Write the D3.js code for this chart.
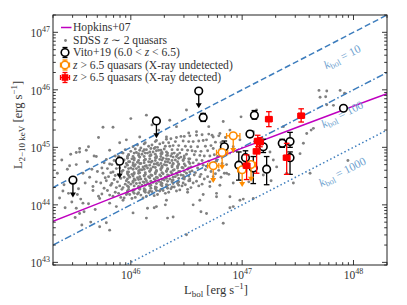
<!DOCTYPE html>
<html>
<head>
<meta charset="utf-8">
<script src="https://cdn.jsdelivr.net/npm/d3@7"></script>
<style>
  body { margin: 0; background: #fff; }
  svg { display: block; font-family: "Liberation Serif", "DejaVu Serif", serif; }
</style>
</head>
<body>
<div id="chart"></div>
<script>
// axis ranges (erg/s)
const xDomain = [2e45, 2e48];
const yDomain = [9e42, 2e47];

// bolometric corrections drawn as L_X = L_bol / k
const kbolValues = [10, 100, 1000];
const kbolLabels = ["10", "100", "1000"];

// Hopkins+07 curve
const hopkinsLbol = [2e45, 5e45, 1e46, 3e46, 1e47, 3e47, 1e48, 2e48];
const hopkinsLx = [5.2e43, 1.04e44, 1.76e44, 3.98e44, 9.7e44, 2.17e45, 5.2e45, 8.6e45];

// Vito+19 detections: [log Lbol, log LX, err down, err up]
const vitoDet = [
  [46.65, 45.52, 0.07, 0.07], [46.84, 45.01, 0.10, 0.10], [46.97, 44.69, 0.26, 0.23],
  [47.03, 44.82, 0.12, 0.12], [47.07, 45.23, 0.05, 0.05], [47.11, 45.56, 0.07, 0.08],
  [47.10, 44.64, 0.27, 0.20], [47.19, 45.01, 0.10, 0.13], [47.22, 44.62, 0.27, 0.22],
  [47.36, 45.07, 0.07, 0.07], [47.43, 45.10, 0.10, 0.16], [47.43, 44.82, 0.29, 0.10],
  [47.91, 45.68, 0.04, 0.04]
];
// Vito+19 upper limits: [log Lbol, log LX]
const vitoUL = [[45.48, 44.43], [45.90, 44.76], [46.23, 45.46], [46.61, 45.98]];

// z > 6.5, X-ray undetected (upper limits): [log Lbol, log LX, x err]
const undetUL = [
  [46.74, 44.68, 0.05], [46.82, 44.91, 0.05], [46.92, 45.20, 0.06],
  [47.00, 44.61, 0.04], [47.08, 44.70, 0.04]
];
// z > 6.5, X-ray detected: [log Lbol, log LX, x err, y err down, y err up]
const xrayDet = [
  [47.04, 44.68, 0.03, 0.24, 0.19], [47.13, 44.93, 0.03, 0.38, 0.17],
  [47.14, 45.11, 0.03, 0.10, 0.10], [47.16, 45.09, 0.03, 0.08, 0.08],
  [47.24, 45.49, 0.03, 0.13, 0.13], [47.40, 44.82, 0.03, 0.29, 0.25],
  [47.53, 45.55, 0.03, 0.11, 0.12]
];

// SDSS z~2 quasars: [log Lbol, log LX]
const sdss = [
  [45.34,44.55],[45.36,44.12],[45.38,44.78],[45.40,44.35],[45.41,43.95],[45.43,44.62],[45.44,44.20],[45.46,44.88],
  [45.47,44.05],[45.49,44.45],[45.50,43.78],[45.51,44.70],[45.53,44.28],[45.54,44.92],[45.55,44.10],[45.57,44.55],
  [45.58,43.88],[45.59,44.38],[45.61,44.75],[45.62,44.02],[45.63,44.48],[45.64,43.70],[45.65,44.62],[45.66,44.25],
  [45.67,44.85],[45.68,43.92],[45.69,44.40],[45.70,44.58],[45.71,44.15],[45.72,43.62],[45.45,44.68],[45.52,44.18],
  [45.60,44.95],[45.66,44.32],[45.39,44.24],[45.56,43.65],
  [45.74,44.19],[45.76,44.29],[45.73,44.38],[45.77,44.47],[45.75,44.55],[45.74,44.64],[45.76,44.73],
  [45.81,44.17],[45.79,44.25],[45.82,44.34],[45.78,44.42],[45.80,44.49],[45.82,44.56],[45.79,44.63],[45.81,44.71],[45.78,44.79],
  [45.84,44.15],[45.86,44.22],[45.87,44.30],[45.83,44.37],[45.85,44.44],[45.86,44.51],[45.84,44.57],[45.87,44.63],[45.83,44.70],[45.85,44.77],[45.86,44.85],
  [45.91,44.13],[45.89,44.20],[45.92,44.27],[45.90,44.33],[45.88,44.40],[45.91,44.46],[45.89,44.52],[45.92,44.58],[45.90,44.64],[45.88,44.70],[45.91,44.77],[45.89,44.84],[45.92,44.91],
  [45.94,44.12],[45.96,44.18],[45.97,44.24],[45.93,44.30],[45.95,44.36],[45.96,44.42],[45.94,44.48],[45.97,44.54],[45.93,44.60],[45.95,44.66],[45.96,44.72],[45.94,44.78],[45.97,44.84],[45.93,44.90],[45.95,44.96],
  [46.01,44.11],[45.99,44.18],[46.02,44.23],[45.98,44.31],[46.00,44.36],[46.02,44.41],[45.99,44.48],[46.01,44.53],[45.98,44.57],[46.00,44.64],[46.02,44.69],[45.99,44.75],[46.01,44.80],[45.98,44.87],[46.00,44.93],[46.02,45.01],
  [46.04,44.13],[46.06,44.19],[46.03,44.26],[46.07,44.30],[46.05,44.37],[46.04,44.43],[46.06,44.47],[46.03,44.54],[46.07,44.59],[46.05,44.63],[46.04,44.70],[46.06,44.74],[46.03,44.81],[46.07,44.86],[46.05,44.91],[46.04,44.97],[46.06,45.04],
  [46.11,44.12],[46.09,44.17],[46.12,44.24],[46.08,44.29],[46.10,44.34],[46.11,44.40],[46.09,44.45],[46.12,44.50],[46.08,44.56],[46.10,44.61],[46.11,44.66],[46.09,44.72],[46.12,44.77],[46.08,44.83],[46.10,44.88],[46.11,44.93],[46.09,44.99],[46.12,45.06],
  [46.14,44.15],[46.16,44.21],[46.13,44.26],[46.17,44.33],[46.15,44.38],[46.14,44.42],[46.16,44.49],[46.13,44.53],[46.17,44.59],[46.15,44.64],[46.14,44.68],[46.16,44.75],[46.13,44.79],[46.17,44.85],[46.15,44.90],[46.14,44.96],[46.16,45.02],[46.13,45.08],
  [46.21,44.16],[46.19,44.23],[46.22,44.28],[46.18,44.34],[46.20,44.39],[46.21,44.45],[46.19,44.51],[46.22,44.56],[46.18,44.61],[46.20,44.66],[46.21,44.71],[46.19,44.76],[46.22,44.82],[46.18,44.87],[46.20,44.92],[46.21,44.98],[46.19,45.04],[46.22,45.10],
  [46.24,44.18],[46.26,44.24],[46.23,44.30],[46.27,44.35],[46.25,44.41],[46.24,44.47],[46.26,44.52],[46.23,44.58],[46.27,44.63],[46.25,44.69],[46.24,44.73],[46.26,44.79],[46.23,44.84],[46.27,44.89],[46.25,44.95],[46.24,45.00],[46.26,45.06],[46.23,45.12],
  [46.31,44.20],[46.29,44.25],[46.32,44.31],[46.28,44.37],[46.30,44.43],[46.31,44.48],[46.29,44.54],[46.32,44.59],[46.28,44.65],[46.30,44.70],[46.31,44.75],[46.29,44.81],[46.32,44.86],[46.28,44.91],[46.30,44.97],[46.31,45.02],[46.29,45.08],[46.32,45.14],
  [46.34,44.22],[46.36,44.28],[46.33,44.34],[46.37,44.40],[46.35,44.45],[46.34,44.51],[46.36,44.57],[46.33,44.62],[46.37,44.68],[46.35,44.73],[46.34,44.79],[46.36,44.85],[46.33,44.90],[46.37,44.96],[46.35,45.02],[46.34,45.08],[46.36,45.15],
  [46.41,44.24],[46.39,44.31],[46.42,44.37],[46.38,44.43],[46.40,44.49],[46.41,44.55],[46.39,44.61],[46.42,44.67],[46.38,44.72],[46.40,44.78],[46.41,44.84],[46.39,44.90],[46.42,44.96],[46.38,45.03],[46.40,45.10],[46.41,45.17],
  [46.44,44.26],[46.46,44.33],[46.43,44.40],[46.47,44.46],[46.45,44.52],[46.44,44.58],[46.46,44.65],[46.43,44.71],[46.47,44.77],[46.45,44.83],[46.44,44.90],[46.46,44.96],[46.43,45.03],[46.47,45.11],[46.45,45.19],
  [46.51,44.27],[46.49,44.35],[46.52,44.42],[46.48,44.48],[46.50,44.55],[46.51,44.62],[46.49,44.68],[46.52,44.75],[46.48,44.81],[46.50,44.88],[46.51,44.95],[46.49,45.02],[46.52,45.10],[46.48,45.19],
  [46.54,44.30],[46.56,44.38],[46.53,44.45],[46.57,44.52],[46.55,44.59],[46.54,44.66],[46.56,44.73],[46.53,44.80],[46.57,44.87],[46.55,44.94],[46.54,45.01],[46.56,45.10],[46.53,45.20],
  [46.61,44.33],[46.59,44.41],[46.62,44.49],[46.58,44.56],[46.60,44.64],[46.61,44.71],[46.59,44.78],[46.62,44.86],[46.58,44.93],[46.60,45.01],[46.61,45.11],[46.59,45.21],
  [46.64,44.36],[46.66,44.45],[46.63,44.53],[46.67,44.61],[46.65,44.69],[46.64,44.77],[46.66,44.85],[46.63,44.93],[46.67,45.02],[46.65,45.12],[46.64,45.22],
  [46.71,44.40],[46.69,44.49],[46.72,44.58],[46.68,44.67],[46.70,44.76],[46.71,44.85],[46.69,44.94],[46.72,45.03],[46.68,45.13],[46.70,45.23],
  [46.74,44.43],[46.76,44.54],[46.73,44.65],[46.77,44.76],[46.75,44.87],[46.74,44.98],[46.76,45.09],[46.73,45.21],
  [46.81,44.48],[46.79,44.60],[46.82,44.72],[46.78,44.84],[46.80,44.96],[46.81,45.08],[46.79,45.20],
  [46.84,44.55],[46.86,44.70],[46.83,44.86],[46.87,45.01],[46.85,45.17],
  // dense core, second pass
  [45.97,44.21],[45.98,44.27],[45.97,44.33],[45.98,44.39],[45.97,44.45],[45.98,44.51],[45.97,44.57],[45.98,44.63],[45.97,44.69],[45.98,44.75],[45.97,44.81],[45.98,44.87],
  [46.03,44.20],[46.02,44.26],[46.03,44.33],[46.02,44.39],[46.03,44.45],[46.02,44.50],[46.03,44.56],[46.02,44.62],[46.03,44.67],[46.02,44.73],[46.03,44.78],[46.02,44.84],[46.03,44.90],
  [46.07,44.21],[46.08,44.27],[46.07,44.32],[46.08,44.38],[46.07,44.44],[46.08,44.49],[46.07,44.55],[46.08,44.61],[46.07,44.66],[46.08,44.72],[46.07,44.77],[46.08,44.83],[46.07,44.89],[46.08,44.95],
  [46.13,44.22],[46.12,44.28],[46.13,44.34],[46.12,44.39],[46.13,44.45],[46.12,44.51],[46.13,44.56],[46.12,44.62],[46.13,44.67],[46.12,44.73],[46.13,44.79],[46.12,44.84],[46.13,44.90],[46.12,44.96],
  [46.17,44.24],[46.18,44.29],[46.17,44.35],[46.18,44.41],[46.17,44.47],[46.18,44.52],[46.17,44.58],[46.18,44.63],[46.17,44.69],[46.18,44.74],[46.17,44.80],[46.18,44.86],[46.17,44.92],[46.18,44.98],
  [46.23,44.25],[46.22,44.31],[46.23,44.37],[46.22,44.43],[46.23,44.48],[46.22,44.54],[46.23,44.60],[46.22,44.65],[46.23,44.71],[46.22,44.77],[46.23,44.82],[46.22,44.88],[46.23,44.94],[46.22,45.00],
  [46.27,44.27],[46.28,44.33],[46.27,44.39],[46.28,44.44],[46.27,44.50],[46.28,44.56],[46.27,44.61],[46.28,44.67],[46.27,44.72],[46.28,44.78],[46.27,44.84],[46.28,44.89],[46.27,44.95],
  [46.33,44.29],[46.32,44.35],[46.33,44.41],[46.32,44.46],[46.33,44.52],[46.32,44.58],[46.33,44.63],[46.32,44.69],[46.33,44.75],[46.32,44.80],[46.33,44.86],[46.32,44.92],
  [46.37,44.31],[46.38,44.37],[46.37,44.43],[46.38,44.48],[46.37,44.54],[46.38,44.60],[46.37,44.66],[46.38,44.71],[46.37,44.77],[46.38,44.83],[46.37,44.89],
  [46.43,44.34],[46.42,44.40],[46.43,44.46],[46.42,44.52],[46.43,44.58],[46.42,44.64],[46.43,44.70],[46.42,44.75],[46.43,44.81],[46.42,44.87],
  [46.47,44.38],[46.48,44.45],[46.47,44.51],[46.48,44.58],[46.47,44.64],[46.48,44.71],[46.47,44.78],[46.48,44.85],
  [46.53,44.42],[46.52,44.50],[46.53,44.57],[46.52,44.64],[46.53,44.72],[46.52,44.80],
  // scattered above the cloud
  [46.00,45.50],[45.71,45.17],[45.84,45.35],[46.14,45.56],[46.19,45.39],[46.25,45.30],[46.35,45.47],[46.41,45.36],
  [46.50,45.65],[46.52,45.25],[46.59,45.27],[46.70,45.36],[46.74,45.18],[45.81,44.95],[45.90,45.08],[45.96,45.13],
  [46.08,45.18],[46.32,45.18],[45.51,44.91],[45.54,44.98],[45.62,45.01],[45.69,44.84],[45.75,45.35],
  // scattered below the cloud
  [45.72,44.11],[45.81,44.03],[45.87,43.97],[45.93,44.08],[46.02,43.86],[46.14,43.77],[46.23,43.97],[46.32,44.08],
  [46.38,43.79],[46.50,43.48],[46.56,44.00],[46.62,44.08],[46.68,43.85],[46.77,44.14],[46.83,43.68],[46.92,43.97],
  [46.98,44.08],[45.57,44.03],[45.51,43.94],[45.54,43.85],[45.78,43.69],[45.81,43.56],[46.33,43.77],[46.31,44.00],
  [46.21,43.95],[46.51,44.22],[46.65,44.18],[46.77,44.20],[46.63,43.88],[46.15,43.94],
  // bright end
  [46.80,45.24],[46.89,45.30],[46.98,45.13],[46.77,44.78],[46.86,44.55],[46.92,44.38],[47.06,44.40],[47.10,45.27],
  [47.19,45.13],[47.25,44.92],[47.28,44.78],[47.31,44.66],[47.37,45.36],[47.40,44.55],[47.46,44.38],[47.52,44.89],
  [47.55,45.07],[47.58,45.24],[47.64,45.33],[47.69,45.99],[47.75,45.88],[47.88,45.99],[47.82,45.73],[47.95,44.77],
  [47.10,44.11],[47.61,44.55],[46.89,44.14],[47.01,44.84],[46.74,44.49],[46.80,44.34],[46.71,44.32],[46.92,45.01],
  [47.13,45.65],[46.99,45.53],[46.83,45.45],[47.70,45.87],[47.76,45.98],[47.92,45.94],[47.76,45.74],[47.62,45.30],
  [46.89,43.95],[47.01,44.10],[47.26,44.42],[47.19,44.52],[46.88,44.53]
];

const width = 407;
const height = 305;
const plotLeft = 53, plotRight = 387, plotTop = 15, plotBottom = 265;

const blue = "#3d7dbd";
const blueText = "#6e9fcf";
const magenta = "#bf00bf";
const orange = "#ff8c00";
const grey = "#808080";

const svg = d3.select("#chart").append("svg")
  .attr("width", width)
  .attr("height", height);

const x = d3.scaleLog().domain(xDomain).range([plotLeft, plotRight]);
const y = d3.scaleLog().domain(yDomain).range([plotBottom, plotTop]);
const p = v => Math.pow(10, v);

svg.append("defs").append("clipPath").attr("id", "clip")
  .append("rect")
  .attr("x", plotLeft).attr("y", plotTop)
  .attr("width", plotRight - plotLeft).attr("height", plotBottom - plotTop);

const plot = svg.append("g").attr("clip-path", "url(#clip)");

// SDSS points
plot.selectAll(".sdss")
  .data(sdss)
  .join("circle")
  .attr("class", "sdss")
  .attr("cx", d => x(p(d[0])))
  .attr("cy", d => y(p(d[1])))
  .attr("r", 1.45)
  .attr("fill", grey);

// k_bol lines
const kbolDash = ["6,3", "7,2.5,1.5,2.5", "1.5,2.5"];
const line = d3.line().x(d => x(d[0])).y(d => y(d[1]));
kbolValues.forEach((k, i) => {
  plot.append("path")
    .attr("d", line([[xDomain[0], xDomain[0] / k], [xDomain[1], xDomain[1] / k]]))
    .attr("fill", "none")
    .attr("stroke", blue)
    .attr("stroke-width", 1.5)
    .attr("stroke-dasharray", kbolDash[i]);
});

// Hopkins+07
plot.append("path")
  .attr("d", d3.line().x(d => x(d[0])).y(d => y(d[1])).curve(d3.curveMonotoneX)(hopkinsLbol.map((v, i) => [v, hopkinsLx[i]])))
  .attr("fill", "none")
  .attr("stroke", magenta)
  .attr("stroke-width", 1.5);

// k_bol labels
const angle = Math.atan2(y(1e46) - y(1e45), x(1e47) - x(1e46)) * 180 / Math.PI;
kbolValues.forEach((k, i) => {
  const lx = 344;
  const ly = y(x.invert(lx) / k) + 23;
  const t = svg.append("text")
    .attr("transform", `translate(${lx},${ly}) rotate(${angle})`)
    .attr("text-anchor", "middle")
    .attr("fill", blueText)
    .attr("font-size", 11.5);
  t.append("tspan").attr("font-style", "italic").text("k");
  t.append("tspan").attr("font-size", 8.5).attr("dy", 2.5).text("bol");
  t.append("tspan").attr("dy", -2.5).text(" = " + kbolLabels[i]);
});

// drawing helpers
function vbar(g, cx, y1, y2, color, cap) {
  g.append("line").attr("x1", cx).attr("x2", cx).attr("y1", y1).attr("y2", y2)
    .attr("stroke", color).attr("stroke-width", 1.3);
  [y1, y2].forEach(yy => {
    g.append("line").attr("x1", cx - cap).attr("x2", cx + cap).attr("y1", yy).attr("y2", yy)
      .attr("stroke", color).attr("stroke-width", 1.3);
  });
}
function hbar(g, cy, x1, x2, color, cap) {
  g.append("line").attr("x1", x1).attr("x2", x2).attr("y1", cy).attr("y2", cy)
    .attr("stroke", color).attr("stroke-width", 1.3);
  [x1, x2].forEach(xx => {
    g.append("line").attr("x1", xx).attr("x2", xx).attr("y1", cy - cap).attr("y2", cy + cap)
      .attr("stroke", color).attr("stroke-width", 1.3);
  });
}
function arrowDown(g, cx, y0, y1, color) {
  g.append("line").attr("x1", cx).attr("x2", cx).attr("y1", y0).attr("y2", y1 - 4)
    .attr("stroke", color).attr("stroke-width", 1.3);
  g.append("path").attr("d", `M${cx - 3},${y1 - 5}L${cx + 3},${y1 - 5}L${cx},${y1}Z`)
    .attr("fill", color);
}
function openCircle(g, cx, cy, color) {
  g.append("circle").attr("cx", cx).attr("cy", cy).attr("r", 3.8)
    .attr("fill", "#fff").attr("stroke", color).attr("stroke-width", 1.6);
}
function square(g, cx, cy, color) {
  g.append("rect").attr("x", cx - 3.3).attr("y", cy - 3.3).attr("width", 6.6).attr("height", 6.6)
    .attr("fill", color);
}

const ulLength = 0.3; // arrow length in dex

const marks = svg.append("g");

// Vito+19
vitoUL.forEach(d => {
  const cx = x(p(d[0])), cy = y(p(d[1]));
  arrowDown(marks, cx, cy, y(p(d[1] - ulLength)), "#000");
  openCircle(marks, cx, cy, "#000");
});
vitoDet.forEach(d => {
  const cx = x(p(d[0]));
  vbar(marks, cx, y(p(d[1] + d[3])), y(p(d[1] - d[2])), "#000", 2.8);
  openCircle(marks, cx, y(p(d[1])), "#000");
});

// X-ray undetected
undetUL.forEach(d => {
  const cx = x(p(d[0])), cy = y(p(d[1]));
  arrowDown(marks, cx, cy, y(p(d[1] - ulLength)), orange);
  hbar(marks, cy, x(p(d[0] - d[2])), x(p(d[0] + d[2])), orange, 2.8);
  openCircle(marks, cx, cy, orange);
});

// X-ray detected
xrayDet.forEach(d => {
  const cx = x(p(d[0])), cy = y(p(d[1]));
  vbar(marks, cx, y(p(d[1] + d[4])), y(p(d[1] - d[3])), "red", 2.8);
  hbar(marks, cy, x(p(d[0] - d[2])), x(p(d[0] + d[2])), "red", 2.8);
  square(marks, cx, cy, "red");
});

// frame and ticks
svg.append("rect")
  .attr("x", plotLeft).attr("y", plotTop)
  .attr("width", plotRight - plotLeft).attr("height", plotBottom - plotTop)
  .attr("fill", "none").attr("stroke", "#222").attr("stroke-width", 1);

const isMajor = d => Math.abs(Math.log10(d) - Math.round(Math.log10(d))) < 1e-6;
const ticks = svg.append("g").attr("stroke", "#222").attr("stroke-width", 0.9);
x.ticks().forEach(d => {
  const len = isMajor(d) ? 5 : 2.8;
  const xx = x(d);
  ticks.append("line").attr("x1", xx).attr("x2", xx).attr("y1", plotBottom).attr("y2", plotBottom - len);
  ticks.append("line").attr("x1", xx).attr("x2", xx).attr("y1", plotTop).attr("y2", plotTop + len);
});
y.ticks().forEach(d => {
  const len = isMajor(d) ? 5 : 2.8;
  const yy = y(d);
  ticks.append("line").attr("x1", plotLeft).attr("x2", plotLeft + len).attr("y1", yy).attr("y2", yy);
  ticks.append("line").attr("x1", plotRight).attr("x2", plotRight - len).attr("y1", yy).attr("y2", yy);
});

// tick labels
const labels = svg.append("g").attr("fill", "#333");
x.ticks().filter(isMajor).forEach(d => {
  const t = labels.append("text")
    .attr("x", x(d)).attr("y", 279)
    .attr("text-anchor", "middle")
    .attr("font-size", 11.5);
  t.append("tspan").text("10");
  t.append("tspan").attr("font-size", 8).attr("dy", -5).text(Math.round(Math.log10(d)));
});
y.ticks().filter(isMajor).forEach(d => {
  const t = labels.append("text")
    .attr("x", plotLeft - 3).attr("y", y(d) + 5)
    .attr("text-anchor", "end")
    .attr("font-size", 11.5);
  t.append("tspan").text("10");
  t.append("tspan").attr("font-size", 8).attr("dy", -5).text(Math.round(Math.log10(d)));
});

// axis titles
const xt = labels.append("text")
  .attr("x", 216).attr("y", 294)
  .attr("text-anchor", "middle")
  .attr("font-size", 12.5);
xt.append("tspan").text("L");
xt.append("tspan").attr("font-size", 9).attr("dy", 2.5).text("bol");
xt.append("tspan").attr("dy", -2.5).text(" [erg s");
xt.append("tspan").attr("font-size", 9).attr("dy", -5).text("\u22121");
xt.append("tspan").attr("dy", 5).text("]");

const yt = labels.append("text")
  .attr("transform", "translate(22,125) rotate(-90)")
  .attr("text-anchor", "middle")
  .attr("font-size", 12.5);
yt.append("tspan").text("L");
yt.append("tspan").attr("font-size", 9).attr("dy", 2.5).text("2\u221210 keV");
yt.append("tspan").attr("dy", -2.5).text(" [erg s");
yt.append("tspan").attr("font-size", 9).attr("dy", -5).text("\u22121");
yt.append("tspan").attr("dy", 5).text("]");

// legend
const legend = svg.append("g");
const lx = 65, tx = 73;
const rows = [27.5, 40.5, 52.5, 65, 77.5];
legend.append("line").attr("x1", 61).attr("x2", 71.5).attr("y1", rows[0]).attr("y2", rows[0])
  .attr("stroke", magenta).attr("stroke-width", 1.5);
legend.append("circle").attr("cx", lx + 0.5).attr("cy", rows[1]).attr("r", 1.4).attr("fill", grey);
vbar(legend, lx, rows[2] - 5, rows[2] + 5, "#000", 2.5);
openCircle(legend, lx, rows[2], "#000");
vbar(legend, lx, rows[3] - 5, rows[3] + 5, orange, 2.5);
hbar(legend, rows[3], lx - 4.5, lx + 4.5, orange, 2.5);
openCircle(legend, lx, rows[3], orange);
vbar(legend, lx, rows[4] - 5, rows[4] + 5, "red", 2.5);
hbar(legend, rows[4], lx - 4.5, lx + 4.5, "red", 2.5);
square(legend, lx, rows[4], "red");

const legendText = [
  [["Hopkins+07", false]],
  [["SDSS ", false], ["z", true], [" \u223c 2 quasars", false]],
  [["Vito+19 (6.0 < ", false], ["z", true], [" < 6.5)", false]],
  [["z", true], [" > 6.5 quasars (X-ray undetected)", false]],
  [["z", true], [" > 6.5 quasars (X-ray detected)", false]]
];
legendText.forEach((parts, i) => {
  const t = legend.append("text")
    .attr("x", tx).attr("y", rows[i] + 3.8)
    .attr("font-size", 11.6)
    .attr("fill", "#333");
  parts.forEach(([s, it]) => {
    t.append("tspan").attr("font-style", it ? "italic" : "normal").text(s);
  });
});
</script>
</body>
</html>
